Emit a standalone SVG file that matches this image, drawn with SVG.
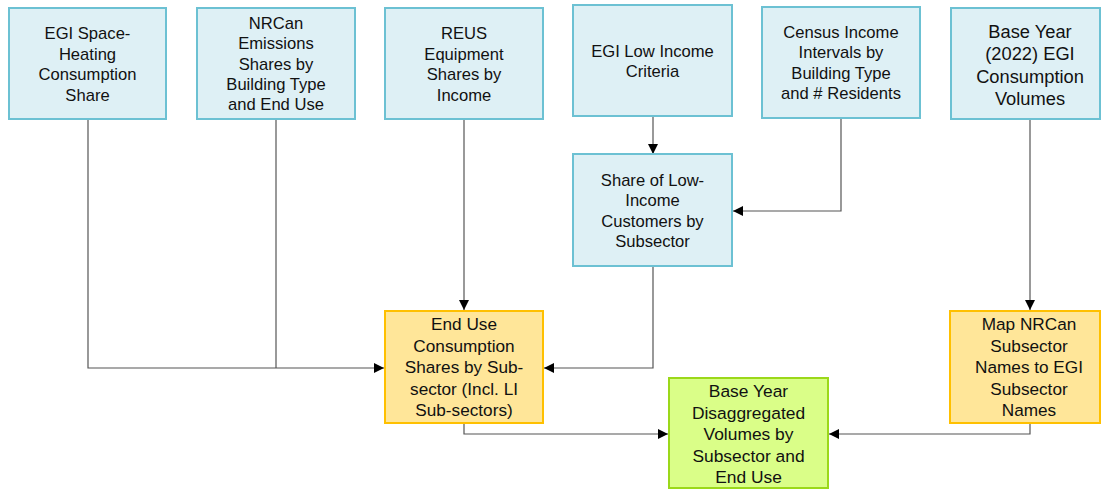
<svg xmlns="http://www.w3.org/2000/svg" width="1101" height="489" viewBox="0 0 1101 489">
<style>
text{font-family:"Liberation Sans",Arial,sans-serif;fill:#111;text-anchor:middle;dominant-baseline:central}
.t{font-size:16.6px}
.b{fill:#DEF0F5;stroke:#6CC1D3;stroke-width:2}
.y{fill:#FFE699;stroke:#FFC000;stroke-width:2}
.g{fill:#DAFE88;stroke:#9BD81A;stroke-width:2}
.c{fill:none;stroke:#555;stroke-width:1.2}
</style>
<defs>
<marker id="ah" viewBox="0 0 10 10" refX="10" refY="5" markerWidth="10" markerHeight="10" markerUnits="userSpaceOnUse" orient="auto">
<path d="M0,0 L10,5 L0,10 z" fill="#000"/>
</marker>
</defs>
<g id="connectors">
<polyline class="c" points="88,119 88,368 384,368" marker-end="url(#ah)"/>
<polyline class="c" points="276,119 276,368"/>
<line class="c" x1="464" y1="119" x2="464" y2="310" marker-end="url(#ah)"/>
<line class="c" x1="653" y1="116" x2="653" y2="154" marker-end="url(#ah)"/>
<polyline class="c" points="841,118 841,211 733,211" marker-end="url(#ah)"/>
<polyline class="c" points="653,266 653,368 544,368" marker-end="url(#ah)"/>
<line class="c" x1="1030" y1="119" x2="1030" y2="310" marker-end="url(#ah)"/>
<polyline class="c" points="464,423 464,434 668,434" marker-end="url(#ah)"/>
<polyline class="c" points="1030,423 1030,434 829,434" marker-end="url(#ah)"/>
</g>
<g id="n1">
<rect class="b" x="9" y="8" width="157" height="111"/>
<text class="t" x="87.5" y="33">EGI Space-</text>
<text class="t" x="87.5" y="54">Heating</text>
<text class="t" x="87.5" y="74.5">Consumption</text>
<text class="t" x="87.5" y="95">Share</text>
</g>
<g id="n2">
<rect class="b" x="197" y="8" width="158" height="111"/>
<text class="t" x="276" y="23">NRCan</text>
<text class="t" x="276" y="43.5">Emissions</text>
<text class="t" x="276" y="64">Shares by</text>
<text class="t" x="276" y="84">Building Type</text>
<text class="t" x="276" y="104.5">and End Use</text>
</g>
<g id="n3">
<rect class="b" x="385" y="8" width="158" height="111"/>
<text class="t" x="464" y="33.5">REUS</text>
<text class="t" x="464" y="54">Equipment</text>
<text class="t" x="464" y="74.5">Shares by</text>
<text class="t" x="464" y="95">Income</text>
</g>
<g id="n4">
<rect class="b" x="573" y="5" width="159" height="111"/>
<text class="t" x="652.5" y="51">EGI Low Income</text>
<text class="t" x="652.5" y="71.5">Criteria</text>
</g>
<g id="n5">
<rect class="b" x="762" y="7" width="158" height="111"/>
<text class="t" x="841" y="32">Census Income</text>
<text class="t" x="841" y="52.5">Intervals by</text>
<text class="t" x="841" y="73">Building Type</text>
<text class="t" x="841" y="93.5">and # Residents</text>
</g>
<g id="n6">
<rect class="b" x="951" y="8" width="149" height="111"/>
<text x="1030" y="31" style="font-size:18.3px">Base Year</text>
<text x="1030" y="53.5" style="font-size:18.3px">(2022) EGI</text>
<text x="1030" y="76" style="font-size:18.3px">Consumption</text>
<text x="1030" y="98.5" style="font-size:18.3px">Volumes</text>
</g>
<g id="n7">
<rect class="b" x="573" y="154" width="159" height="112"/>
<text class="t" x="652.5" y="180">Share of Low-</text>
<text class="t" x="652.5" y="200.5">Income</text>
<text class="t" x="652.5" y="221">Customers by</text>
<text class="t" x="652.5" y="241.5">Subsector</text>
</g>
<g id="n8">
<rect class="y" x="385" y="311" width="158" height="112"/>
<text x="464" y="323.5" style="font-size:17.2px">End Use</text>
<text x="464" y="345.5" style="font-size:17.2px">Consumption</text>
<text x="464" y="367" style="font-size:17.2px">Shares by Sub-</text>
<text x="464" y="388.5" style="font-size:17.2px">sector (Incl. LI</text>
<text x="464" y="410" style="font-size:17.2px">Sub-sectors)</text>
</g>
<g id="n9">
<rect class="y" x="950" y="311" width="150" height="112"/>
<text x="1029" y="323.5" style="font-size:17.2px">Map NRCan</text>
<text x="1029" y="345.5" style="font-size:17.2px">Subsector</text>
<text x="1029" y="367" style="font-size:17.2px">Names to EGI</text>
<text x="1029" y="388.5" style="font-size:17.2px">Subsector</text>
<text x="1029" y="410" style="font-size:17.2px">Names</text>
</g>
<g id="n10">
<rect class="g" x="669" y="378" width="159" height="110"/>
<text x="748.5" y="391" style="font-size:17.4px">Base Year</text>
<text x="748.5" y="412.5" style="font-size:17.4px">Disaggregated</text>
<text x="748.5" y="434" style="font-size:17.4px">Volumes by</text>
<text x="748.5" y="455.5" style="font-size:17.4px">Subsector and</text>
<text x="748.5" y="477" style="font-size:17.4px">End Use</text>
</g>
</svg>
